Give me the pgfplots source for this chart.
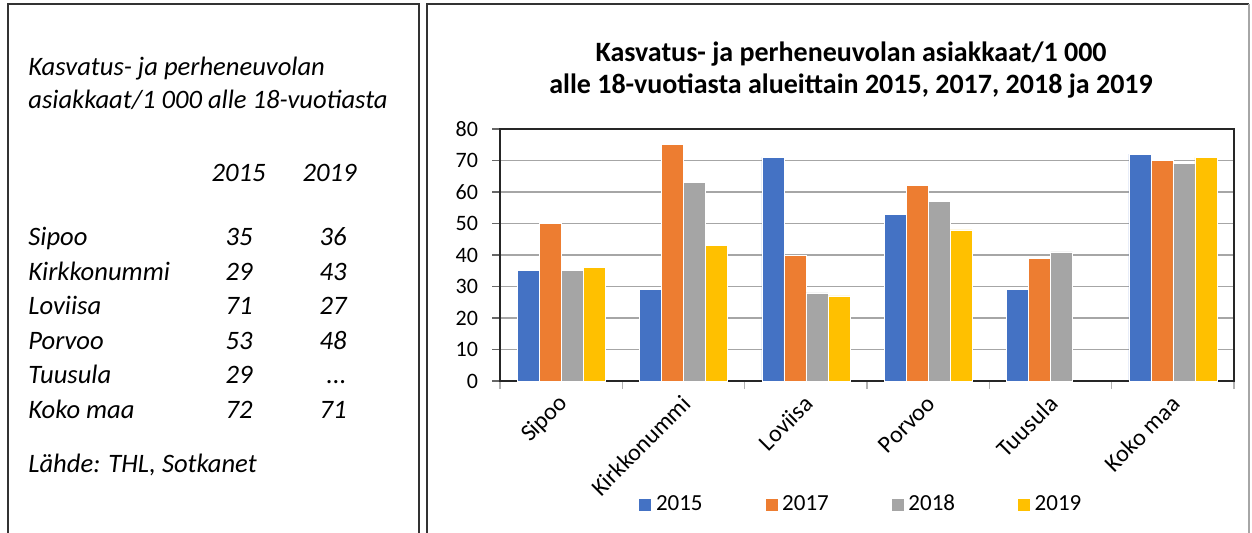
\documentclass[border=0pt]{standalone}
\usepackage{fontspec}
\setmainfont{Carlito}
\usepackage{pgfplots}
\pgfplotsset{compat=1.18}
\definecolor{cA}{HTML}{4472C4}
\definecolor{cB}{HTML}{ED7D31}
\definecolor{cC}{HTML}{A5A5A5}
\definecolor{cD}{HTML}{FFC000}
\newcommand{\row}[4]{%
  \node[anchor=base west] at (14pt,#4) {#1};
  \node[anchor=base east] at (126.5pt,#4) {#2};
  \node[anchor=base east] at (173.5pt,#4) {#3};}
\begin{document}
\begin{tikzpicture}
% panel frames
\draw[line width=1pt, black!80] (4pt,-275pt) -- (4pt,-2pt) -- (209.5pt,-2pt) -- (209.5pt,-275pt);
\draw[line width=1pt, black!80] (213.5pt,-275pt) -- (213.5pt,-2pt) -- (624.5pt,-2pt);
\draw[line width=0.8pt, black!35] (624.5pt,-2pt) -- (624.5pt,-275pt);
% left text
\begin{scope}[every node/.style={inner sep=0pt, font=\fontsize{13.3}{15}\selectfont\itshape}]
\node[anchor=base west] at (14pt,-38pt) {Kasvatus- ja perheneuvolan};
\node[anchor=base west] at (14pt,-54.5pt) {asiakkaat/1 000 alle 18-vuotiasta};
\node[anchor=base east] at (133pt,-91pt) {2015};
\node[anchor=base east] at (178.5pt,-91pt) {2019};
\row{Sipoo}{35}{36}{-123pt}
\row{Kirkkonummi}{29}{43}{-140.25pt}
\row{Loviisa}{71}{27}{-157.5pt}
\row{Porvoo}{53}{48}{-174.75pt}
\row{Tuusula}{29}{...}{-192pt}
\row{Koko maa}{72}{71}{-209.25pt}
\node[anchor=base west] at (14pt,-236.5pt) {Lähde: THL, Sotkanet};
\end{scope}
% chart title
\node[anchor=base, inner sep=0pt, font=\fontsize{14}{16}\selectfont\bfseries] at (425.5pt,-31pt) {Kasvatus- ja perheneuvolan asiakkaat/1 000};
\node[anchor=base, inner sep=0pt, font=\fontsize{14}{16}\selectfont\bfseries] at (425.5pt,-47pt) {alle 18-vuotiasta alueittain 2015, 2017, 2018 ja 2019};
\begin{axis}[
  at={(250pt,-190.5pt)}, anchor=south west,
  scale only axis, width=367pt, height=126pt,
  ybar=0pt, bar width=11pt,
  xmin=-0.5, xmax=5.5, ymin=0, ymax=80,
  ytick={0,10,...,80},
  xtick={-0.5,0.5,...,5.5},
  x tick label as interval,
  xticklabels={Sipoo,Kirkkonummi,Loviisa,Porvoo,Tuusula,Koko maa},
  xtick pos=bottom, ytick pos=left,
  tick align=outside,
  major tick length=4pt,
  x tick style={black!30, line width=0.8pt},
  y tick style={black!60, line width=0.8pt},
  ymajorgrids,
  grid style={black!35, line width=0.8pt},
  axis line style={black!85, line width=0.9pt},
  /pgf/number format/assume math mode=true,
  yticklabel style={font=\fontsize{11}{13}\selectfont, xshift=-3.5pt},
  xticklabel style={xshift=4pt, yshift=-3pt, font=\fontsize{12}{14}\selectfont, rotate=45, anchor=east},
  legend columns=4,
  legend style={at={(0.493,-0.49)}, anchor=center, draw=none, fill=none,
    font=\fontsize{11.5}{13}\selectfont,
    /tikz/every even column/.append style={column sep=29pt}},
  legend image code/.code={\fill[#1] (0pt,-3.25pt) rectangle (6.5pt,3.25pt);},
]
\addplot[fill=cA, draw=white, line width=0.3pt] coordinates {(0,35) (1,29) (2,71) (3,53) (4,29) (5,72)};
\addplot[fill=cB, draw=white, line width=0.3pt] coordinates {(0,50) (1,75) (2,40) (3,62) (4,39) (5,70)};
\addplot[fill=cC, draw=white, line width=0.3pt] coordinates {(0,35) (1,63) (2,28) (3,57) (4,41) (5,69)};
\addplot[fill=cD, draw=white, line width=0.3pt] coordinates {(0,36) (1,43) (2,27) (3,48) (5,71)};
\legend{2015,2017,2018,2019}
\end{axis}
\pgfresetboundingbox
\path[use as bounding box] (0pt,0pt) rectangle (626pt,-266.5pt);
\end{tikzpicture}
\end{document}
